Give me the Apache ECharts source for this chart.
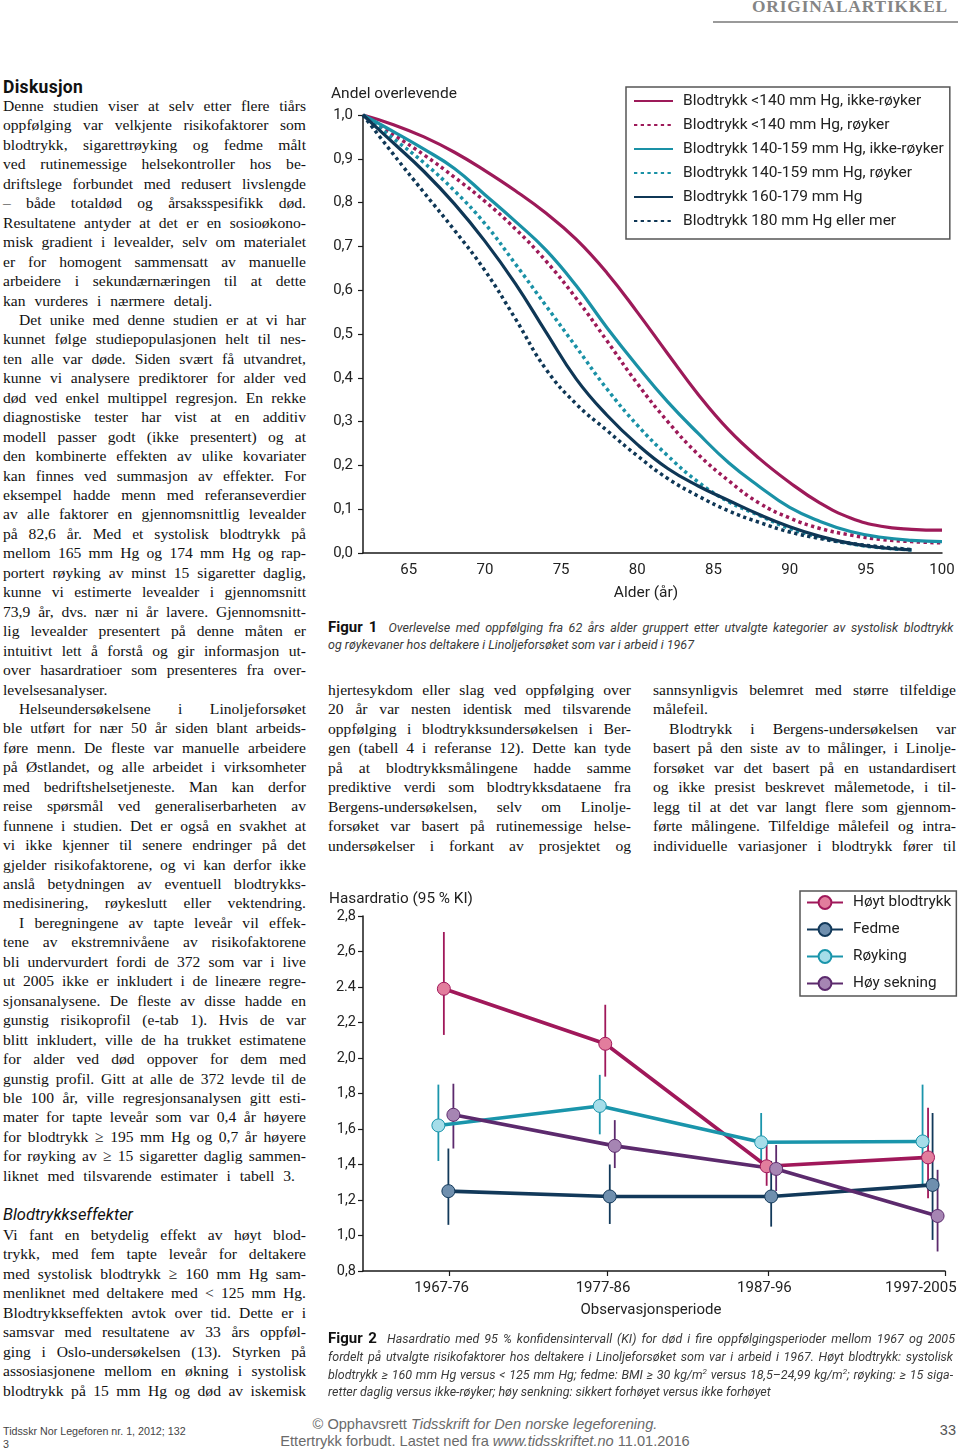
<!DOCTYPE html>
<html lang="no">
<head>
<meta charset="utf-8">
<title>Originalartikkel – Figur 1 og 2</title>
<script src="https://cdn.jsdelivr.net/npm/echarts@6.0.0/dist/echarts.min.js"></script>
<style>
html,body{margin:0;padding:0;background:#fff}
body{width:960px;height:1453px;position:relative;overflow:hidden}
.t{position:absolute;white-space:nowrap;line-height:20px;height:20px}
.t span{display:inline-block;transform-origin:0 50%}
.bt{font-family:'Liberation Serif','Times New Roman',serif;font-size:15.6px;color:#111}
.hd{font-family:Roboto,'Liberation Sans',sans-serif;font-weight:700;font-size:17.5px;letter-spacing:0.3px;color:#111}
.sh{font-family:Roboto,'Liberation Sans',sans-serif;font-style:italic;font-size:16.5px;color:#111}
.cap{font-family:Roboto,'Liberation Sans',sans-serif;font-size:12.5px;color:#3a3a3a}
.cap b{font-style:normal;font-weight:700;font-size:15px;color:#111}
.cap i{font-style:italic}
.cap sup{font-size:8px;line-height:0}
.top{font-family:'Liberation Serif',serif;font-weight:700;font-size:16.5px;color:#858585;letter-spacing:0.8px}
.ft{font-family:'Liberation Sans',Arial,sans-serif;font-size:14.6px;color:#6a6a6a}
.fs{font-family:'Liberation Sans',Arial,sans-serif;font-size:10.7px;color:#444}
.pg{font-family:'Liberation Sans',Arial,sans-serif;font-size:14.5px;color:#555}
#rule{position:absolute;left:713px;top:21px;width:245px;height:1.5px;background:#9a9a9a}
#fig1{position:absolute;left:320px;top:80px;width:640px;height:530px}
#fig2{position:absolute;left:320px;top:880px;width:640px;height:450px}
</style>
</head>
<body>
<div id="rule"></div>
<div id="fig1"></div>
<div id="fig2"></div>
<script>
// ---------------- Figure 1 data: survival by blood pressure / smoking ----------------
const fig1Names = [
  'Blodtrykk <140 mm Hg, ikke-røyker',
  'Blodtrykk <140 mm Hg, røyker',
  'Blodtrykk 140-159 mm Hg, ikke-røyker',
  'Blodtrykk 140-159 mm Hg, røyker',
  'Blodtrykk 160-179 mm Hg',
  'Blodtrykk 180 mm Hg eller mer'
];
const ageTicks = [65, 70, 75, 80, 85, 90, 95, 100];
const ages = [62, 64, 66, 68, 70, 72, 74, 76, 78, 80, 82, 84, 86, 88, 90, 92, 94, 96, 98, 100];
const bpLow   = [1.000, 0.978, 0.950, 0.915, 0.873, 0.827, 0.776, 0.716, 0.640, 0.550, 0.455, 0.362, 0.281, 0.216, 0.161, 0.114, 0.080, 0.061, 0.054, 0.052];
const bpLowS  = [1.000, 0.955, 0.909, 0.858, 0.803, 0.740, 0.667, 0.581, 0.485, 0.387, 0.300, 0.225, 0.165, 0.114, 0.080, 0.056, 0.041, 0.031, 0.026, 0.023];
const bpMid   = [1.000, 0.962, 0.922, 0.878, 0.818, 0.757, 0.692, 0.610, 0.515, 0.427, 0.345, 0.273, 0.206, 0.152, 0.104, 0.072, 0.049, 0.036, 0.029, 0.026];
const bpMidS  = [1.000, 0.946, 0.891, 0.827, 0.752, 0.660, 0.565, 0.470, 0.375, 0.292, 0.222, 0.162, 0.117, 0.086, 0.056, 0.036, 0.021, 0.012, 0.007];
const bpHigh  = [1.000, 0.936, 0.871, 0.797, 0.712, 0.615, 0.505, 0.397, 0.315, 0.248, 0.193, 0.153, 0.120, 0.088, 0.060, 0.038, 0.022, 0.012, 0.007];
const bpVHigh = [1.000, 0.910, 0.823, 0.737, 0.645, 0.535, 0.420, 0.340, 0.280, 0.222, 0.170, 0.130, 0.096, 0.070, 0.048, 0.033, 0.022, 0.014, 0.008];
const fig1Vals = [bpLow, bpLowS, bpMid, bpMidS, bpHigh, bpVHigh];

// ---------------- Figure 2 data: hazard ratios with 95 % CI ----------------
const periods = ['1967-76', '1977-86', '1987-96', '1997-2005'];
const fig2Names = ['Høyt blodtrykk', 'Fedme', 'Røyking', 'Høy sekning'];
const hbVal = [2.39, 2.08, 1.39, 1.44];
const hbLo  = [2.13, 1.895, 1.28, 1.21];
const hbHi  = [2.71, 2.30, 1.51, 1.72];
const feVal = [1.25, 1.22, 1.22, 1.285];
const feLo  = [1.06, 1.065, 1.05, 0.975];
const feHi  = [1.49, 1.40, 1.42, 1.69];
const roVal = [1.62, 1.73, 1.525, 1.53];
const roLo  = [1.42, 1.57, 1.41, 1.29];
const roHi  = [1.85, 1.905, 1.69, 1.85];
const seVal = [1.68, 1.505, 1.375, 1.11];
const seLo  = [1.49, 1.38, 1.25, 0.91];
const seHi  = [1.855, 1.65, 1.51, 1.37];
const hrTickLabels = ['0,8', '1,0', '1,2', '1,4', '1,6', '1,8', '2,0', '2,2', '2.4', '2,6', '2,8'];

// ---------------- styles ----------------
const CRIMSON = '#9d1a59', TEAL = '#1a91a6', NAVY = '#0f3756';
const fig1Colors = [CRIMSON, CRIMSON, TEAL, TEAL, NAVY, NAVY];
const fig1Dotted = [false, true, false, true, false, true];
const f2Line = ['#a0185a', '#12395a', '#1a95ab', '#5c2a6d'];
const f2Fill = ['#e27d9d', '#6f8fae', '#a5dde9', '#a685b3'];
const dodge = [-0.011, 0.017, -0.045, 0.048];
const FONT = 'Roboto';
const AX = '#1a1a1a';

// ---------------- Figure 1 ----------------
const chart1 = echarts.init(document.getElementById('fig1'));
chart1.setOption({
  animation: false,
  textStyle: { fontFamily: FONT },
  grid: { left: 43, top: 35, width: 579, height: 438 },
  xAxis: {
    type: 'value', min: 62, max: 100,
    axisLine: { lineStyle: { color: AX, width: 1.5 } },
    axisTick: { show: false },
    splitLine: { show: false },
    axisLabel: { customValues: ageTicks, margin: 10, color: '#222', fontSize: 15, fontFamily: FONT }
  },
  yAxis: {
    type: 'value', min: 0, max: 1, interval: 0.1,
    axisLine: { show: true, lineStyle: { color: AX, width: 1.5 } },
    axisTick: { show: true, length: 5, lineStyle: { color: AX, width: 1.2 } },
    splitLine: { show: false },
    axisLabel: { formatter: v => v.toFixed(1).replace('.', ','), margin: 10, color: '#222', fontSize: 15, fontFamily: FONT }
  },
  legend: {
    orient: 'vertical', left: 306, top: 7,
    itemWidth: 39, itemHeight: 14, itemGap: 8,
    padding: [6, 6, 10, 7],
    borderColor: '#555', borderWidth: 1.5,
    selectedMode: false,
    itemStyle: { opacity: 0 },
    textStyle: { fontSize: 15.5, color: '#222', fontFamily: FONT, padding: [0, 0, 0, 5] },
    data: fig1Names
  },
  graphic: [
    { type: 'text', x: 11, y: 14, style: { text: 'Andel overlevende', font: '15.5px Roboto', fill: '#222', verticalAlign: 'middle' } },
    { type: 'text', x: 326, y: 513, style: { text: 'Alder (år)', font: '15.5px Roboto', fill: '#222', align: 'center', verticalAlign: 'middle' } }
  ],
  series: fig1Names.map((n, i) => ({
    type: 'line', name: n,
    data: fig1Vals[i].map((v, k) => [ages[k], v]),
    symbol: 'none', showSymbol: false,
    smooth: 0.45,
    itemStyle: { color: fig1Colors[i], opacity: 0 },
    lineStyle: fig1Dotted[i]
      ? { color: fig1Colors[i], width: 3.5, type: [3.3, 3.4], cap: 'butt' }
      : { color: fig1Colors[i], width: 3.2, type: 'solid' },
    z: 2 + i
  }))
});

// ---------------- Figure 2 ----------------
const f2Vals = [hbVal, feVal, roVal, seVal];
const f2Lo = [hbLo, feLo, roLo, seLo];
const f2Hi = [hbHi, feHi, roHi, seHi];
const periodPos = periods.map((p, i) => i + 1);

const errSeries = fig2Names.map((n, s) => ({
  type: 'custom', name: n + ' KI', silent: true, z: 2,
  data: periodPos.map((p, i) => [p + dodge[s], f2Lo[s][i], f2Hi[s][i]]),
  encode: { x: 0, y: [1, 2] },
  renderItem: (params, api) => {
    const a = api.coord([api.value(0), api.value(1)]);
    const b = api.coord([api.value(0), api.value(2)]);
    return { type: 'line', shape: { x1: a[0], y1: a[1], x2: b[0], y2: b[1] },
      style: { stroke: f2Line[s], lineWidth: 1.8 } };
  }
}));
const lineSeries = fig2Names.map((n, s) => ({
  type: 'line', name: n, z: 4,
  data: periodPos.map((p, i) => [p + dodge[s], f2Vals[s][i]]),
  symbol: 'circle', symbolSize: 13,
  lineStyle: { color: f2Line[s], width: 3.6 },
  itemStyle: { color: f2Fill[s], borderColor: f2Line[s], borderWidth: 1 }
}));

const chart2 = echarts.init(document.getElementById('fig2'));
chart2.setOption({
  animation: false,
  textStyle: { fontFamily: FONT },
  grid: { left: 43, top: 36, width: 582, height: 355 },
  xAxis: {
    type: 'value', min: 0.488, max: 4.094,
    axisLine: { lineStyle: { color: AX, width: 1.5 } },
    axisTick: { show: true, length: 5, customValues: [1.02, 2.0, 3.0, 4.094], lineStyle: { color: AX, width: 1.2 } },
    splitLine: { show: false },
    axisLabel: {
      customValues: periodPos, margin: 10, color: '#222', fontSize: 15, fontFamily: FONT,
      formatter: v => (Math.round(v) === 4 ? '{l|' : '{n|') + periods[Math.round(v) - 1] + '}',
      rich: { n: { fontSize: 15, fontFamily: FONT, color: '#222', padding: [0, 8, 0, 0] },
              l: { fontSize: 15, fontFamily: FONT, color: '#222', padding: [0, 18, 0, 0] } }
    }
  },
  yAxis: {
    type: 'value', min: 0.8, max: 2.8, interval: 0.2,
    axisLine: { show: true, lineStyle: { color: AX, width: 1.5 } },
    axisTick: { show: true, length: 5, lineStyle: { color: AX, width: 1.2 } },
    splitLine: { show: false },
    axisLabel: { formatter: v => hrTickLabels[Math.round((v - 0.8) / 0.2)], margin: 7, color: '#222', fontSize: 14.5, fontFamily: FONT }
  },
  legend: {
    orient: 'vertical', left: 480, top: 11,
    itemWidth: 36, itemHeight: 16, itemGap: 12,
    padding: [4, 5, 5, 6],
    borderColor: '#555', borderWidth: 1.5,
    selectedMode: false,
    textStyle: { fontSize: 15.3, color: '#222', fontFamily: FONT, padding: [0, 0, 0, 5] },
    data: fig2Names
  },
  graphic: [
    { type: 'text', x: 9, y: 19, style: { text: 'Hasardratio (95 % KI)', font: '15.3px Roboto', fill: '#222', verticalAlign: 'middle' } },
    { type: 'text', x: 331, y: 430, style: { text: 'Observasjonsperiode', font: '15px Roboto', fill: '#222', align: 'center', verticalAlign: 'middle' } }
  ],
  series: errSeries.concat(lineSeries)
});

// ---------------- page text ----------------
function mk(html, x, cy, w, cls) {
  const d = document.createElement('div');
  d.className = 't ' + cls;
  d.style.left = x + 'px'; d.style.top = (cy - 10) + 'px'; d.style.width = w + 'px';
  const s = document.createElement('span'); s.innerHTML = html; d.appendChild(s);
  document.body.appendChild(d);
  return { d, s, nat: s.getBoundingClientRect().width, w, cls };
}
function finish(o, mode, scale) {
  const spaces = (o.s.textContent.match(/ /g) || []).length;
  if (mode === 'f') { scale = o.w / o.nat; }
  if (scale !== 1) o.s.style.transform = 'scaleX(' + scale + ')';
  if (mode === 'j' && spaces) {
    const ws = (o.w / scale - o.nat) / spaces;
    o.s.style.wordSpacing = Math.max(ws, -2) + 'px';
  } else if (mode === 'l' && o.cls === 'bt' && spaces) {
    o.s.style.wordSpacing = '5px';
  } else if (mode === 'c') { o.d.style.textAlign = 'center'; }
  else if (mode === 'r') { o.d.style.textAlign = 'right'; }
}
function line(html, x, cy, w, cls, mode) {
  const o = mk(html, x, cy, w, cls);
  finish(o, mode, o.nat > o.w ? o.w / o.nat : 1);
}
function block(items, x, w, cls) {
  const objs = items.map(it => mk(it.h, x + (it.ind || 0), it.y, w - (it.ind || 0), cls));
  let sc = 1;
  objs.forEach((o, i) => { if (items[i].m === 'j' || o.nat > o.w) sc = Math.min(sc, o.w / o.nat); });
  objs.forEach((o, i) => finish(o, items[i].m, sc));
}
function column(paras, x, y0, w, step) {
  let k = 0;
  paras.forEach(p => {
    p.lines.forEach((t, j) => {
      const ind = (j === 0 && p.ind) ? 16 : 0;
      const last = j === p.lines.length - 1;
      line(t, x + ind, y0 + k * step, w - ind, 'bt', last ? p.lastMode : 'j');
      k++;
    });
  });
}

// header
line('ORIGINALARTIKKEL', 752, 7, 196, 'top', 'f');

// left column
line('Diskusjon', 3, 87, 200, 'hd', 'l');
column([
  { ind: false, lastMode: 'l', lines: [
    'Denne studien viser at selv etter flere tiårs',
    'oppfølging var velkjente risikofaktorer som',
    'blodtrykk, sigarettrøyking og fedme målt',
    'ved rutinemessige helsekontroller hos be-',
    'driftslege forbundet med redusert livslengde',
    '– både totaldød og årsaksspesifikk død.',
    'Resultatene antyder at det er en sosioøkono-',
    'misk gradient i levealder, selv om materialet',
    'er for homogent sammensatt av manuelle',
    'arbeidere i sekundærnæringen til at dette',
    'kan vurderes i nærmere detalj.'] },
  { ind: true, lastMode: 'l', lines: [
    'Det unike med denne studien er at vi har',
    'kunnet følge studiepopulasjonen helt til nes-',
    'ten alle var døde. Siden svært få utvandret,',
    'kunne vi analysere prediktorer for alder ved',
    'død ved enkel multippel regresjon. En rekke',
    'diagnostiske tester har vist at en additiv',
    'modell passer godt (ikke presentert) og at',
    'den kombinerte effekten av ulike kovariater',
    'kan finnes ved summasjon av effekter. For',
    'eksempel hadde menn med referanseverdier',
    'av alle faktorer en gjennomsnittlig levealder',
    'på 82,6 år. Med et systolisk blodtrykk på',
    'mellom 165 mm Hg og 174 mm Hg og rap-',
    'portert røyking av minst 15 sigaretter daglig,',
    'kunne vi estimerte levealder i gjennomsnitt',
    '73,9 år, dvs. nær ni år lavere. Gjennomsnitt-',
    'lig levealder presentert på denne måten er',
    'intuitivt lett å forstå og gir informasjon ut-',
    'over hasardratioer som presenteres fra over-',
    'levelsesanalyser.'] },
  { ind: true, lastMode: 'j', lines: [
    'Helseundersøkelsene i Linoljeforsøket',
    'ble utført for nær 50 år siden blant arbeids-',
    'føre menn. De fleste var manuelle arbeidere',
    'på Østlandet, og alle arbeidet i virksomheter',
    'med bedriftshelsetjeneste. Man kan derfor',
    'reise spørsmål ved generaliserbarheten av',
    'funnene i studien. Det er også en svakhet at',
    'vi ikke kjenner til senere endringer på det',
    'gjelder risikofaktorene, og vi kan derfor ikke',
    'anslå betydningen av eventuell blodtrykks-',
    'medisinering, røykeslutt eller vektendring.'] },
  { ind: true, lastMode: 'l', lines: [
    'I beregningene av tapte leveår vil effek-',
    'tene av ekstremnivåene av risikofaktorene',
    'bli undervurdert fordi de 372 som var i live',
    'ut 2005 ikke er inkludert i de lineære regre-',
    'sjonsanalysene. De fleste av disse hadde en',
    'gunstig risikoprofil (e-tab 1). Hvis de var',
    'blitt inkludert, ville de ha trukket estimatene',
    'for alder ved død oppover for dem med',
    'gunstig profil. Gitt at alle de 372 levde til de',
    'ble 100 år, ville regresjonsanalysen gitt esti-',
    'mater for tapte leveår som var 0,4 år høyere',
    'for blodtrykk ≥ 195 mm Hg og 0,7 år høyere',
    'for røyking av ≥ 15 sigaretter daglig sammen-',
    'liknet med tilsvarende estimater i tabell 3.'] }
], 3, 106, 303, 19.45);

line('Blodtrykkseffekter', 3, 1215, 250, 'sh', 'l');
column([
  { ind: false, lastMode: 'j', lines: [
    'Vi fant en betydelig effekt av høyt blod-',
    'trykk, med fem tapte leveår for deltakere',
    'med systolisk blodtrykk ≥ 160 mm Hg sam-',
    'menliknet med deltakere med &lt; 125 mm Hg.',
    'Blodtrykkseffekten avtok over tid. Dette er i',
    'samsvar med resultatene av 33 års oppføl-',
    'ging i Oslo-undersøkelsen (13). Styrken på',
    'assosiasjonene mellom en økning i systolisk',
    'blodtrykk på 15 mm Hg og død av iskemisk'] }
], 3, 1235, 303, 19.45);

// middle column
column([
  { ind: false, lastMode: 'j', lines: [
    'hjertesykdom eller slag ved oppfølging over',
    '20 år var nesten identisk med tilsvarende',
    'oppfølging i blodtrykksundersøkelsen i Ber-',
    'gen (tabell 4 i referanse 12). Dette kan tyde',
    'på at blodtrykksmålingene hadde samme',
    'prediktive verdi som blodtrykksdataene fra',
    'Bergens-undersøkelsen, selv om Linolje-',
    'forsøket var basert på rutinemessige helse-',
    'undersøkelser i forkant av prosjektet og'] }
], 328, 690, 303, 19.45);

// right column
column([
  { ind: false, lastMode: 'l', lines: [
    'sannsynligvis belemret med større tilfeldige',
    'målefeil.'] },
  { ind: true, lastMode: 'j', lines: [
    'Blodtrykk i Bergens-undersøkelsen var',
    'basert på den siste av to målinger, i Linolje-',
    'forsøket var det basert på en ustandardisert',
    'og ikke presist beskrevet målemetode, i til-',
    'legg til at det var langt flere som gjennom-',
    'førte målingene. Tilfeldige målefeil og intra-',
    'individuelle variasjoner i blodtrykk fører til'] }
], 653, 690, 303, 19.45);

// captions
block([
  { h: '<b>Figur 1</b>&nbsp; <i>Overlevelse med oppfølging fra 62 års alder gruppert etter utvalgte kategorier av systolisk blodtrykk</i>', y: 627, m: 'j' },
  { h: '<i>og røykevaner hos deltakere i Linoljeforsøket som var i arbeid i 1967</i>', y: 645, m: 'l' }
], 328, 623, 'cap');
block([
  { h: '<b>Figur 2</b>&nbsp; <i>Hasardratio med 95 % konfidensintervall (KI) for død i fire oppfølgingsperioder mellom 1967 og 2005</i>', y: 1338, m: 'j' },
  { h: '<i>fordelt på utvalgte risikofaktorer hos deltakere i Linoljeforsøket som var i arbeid i 1967. Høyt blodtrykk: systolisk</i>', y: 1357, m: 'j' },
  { h: '<i>blodtrykk ≥ 160 mm Hg versus &lt; 125 mm Hg; fedme: BMI ≥ 30 kg/m<sup>2</sup> versus 18,5–24,99 kg/m<sup>2</sup>; røyking: ≥ 15 siga-</i>', y: 1375, m: 'j' },
  { h: '<i>retter daglig versus ikke-røyker; høy senkning: sikkert forhøyet versus ikke forhøyet</i>', y: 1392, m: 'l' }
], 328, 625, 'cap');

// footer
line('Tidsskr Nor Legeforen nr. 1, 2012; 132', 3, 1431, 200, 'fs', 'l');
line('3', 3, 1444, 20, 'fs', 'l');
line('© Opphavsrett <i>Tidsskrift for Den norske legeforening.</i>', 235, 1424, 500, 'ft', 'c');
line('Ettertrykk forbudt. Lastet ned fra <i>www.tidsskriftet.no</i> 11.01.2016', 235, 1441, 500, 'ft', 'c');
line('33', 930, 1430, 26, 'pg', 'r');
</script>
</body>
</html>
